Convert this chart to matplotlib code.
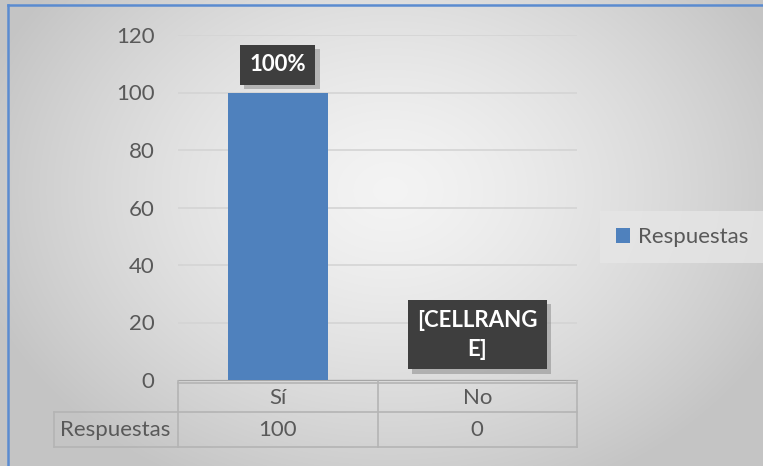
import numpy as np
import matplotlib.pyplot as plt
from matplotlib import patheffects

plt.rcParams['font.family'] = ['Lato', 'DejaVu Sans']

categorias = ['Sí', 'No']
respuestas = [100, 0]
etiquetas = ['100%', '[CELLRANG\nE]']
serie = 'Respuestas'
yticks = [0, 20, 40, 60, 80, 100, 120]

W, H = 763, 466
fig = plt.figure(figsize=(W / 100, H / 100), dpi=100)

# fondo con degradado radial
bg = fig.add_axes([0, 0, 1, 1], zorder=-5)
yy, xx = np.mgrid[0:H, 0:W]
r = np.sqrt(((xx - 390) / 430.0) ** 2 + ((yy - 190) / 330.0) ** 2)
r = np.clip(r, 0, 1)
g = 0.955 - 0.185 * r ** 1.4
bg.imshow(np.dstack([g, g, g]), extent=[0, W, H, 0], aspect='auto')
bg.set_xlim(0, W)
bg.set_ylim(H, 0)
bg.axis('off')
# borde azul del marco
bg.plot([8, W], [5, 5], color='#5a8bd0', lw=1.8)
bg.plot([8, 8], [5, H], color='#5a8bd0', lw=1.8)

fs = 16
gris = '#595959'
x0, x1, y0, y1 = 178, 577, 380, 35
ax = fig.add_axes([x0 / W, 1 - y0 / H, (x1 - x0) / W, (y0 - y1) / H])
ax.patch.set_alpha(0)
x = np.arange(len(categorias))
bars = ax.bar(x, respuestas, width=0.5, color='#4f81bd', zorder=3)
ax.set_xlim(-0.5, len(categorias) - 0.5)
ax.set_ylim(0, 120)
ax.set_yticks(yticks)
ax.yaxis.grid(True, color='#d4d4d4', lw=1.2)
ax.set_axisbelow(True)
for s in ['top', 'right', 'left']:
    ax.spines[s].set_visible(False)
ax.spines['bottom'].set_color('#a6a6a6')
ax.tick_params(axis='y', length=0, labelsize=fs, labelcolor=gris, pad=17)
ax.tick_params(axis='x', length=0, labelbottom=False)

# etiquetas de datos en recuadro oscuro
for xi, v, lab in zip(x, respuestas, etiquetas):
    yl = v + 9.6 if v > 0 else v + 15.7
    t = ax.text(xi, yl, lab, ha='center', va='center', color='white',
                fontsize=fs, fontweight='bold', linespacing=1.5, zorder=5,
                bbox=dict(boxstyle='square,pad=0.42', fc='#3e3e3e', lw=0))
    t.get_bbox_patch().set_path_effects([
        patheffects.SimplePatchShadow(offset=(3, -3), shadow_rgbFace='#7a7a7a', alpha=0.45),
        patheffects.Normal()])

# tabla de datos bajo el eje
ov = fig.add_axes([0, 0, 1, 1], zorder=4)
ov.set_xlim(0, W)
ov.set_ylim(H, 0)
ov.axis('off')
c = '#b4b4b4'
ov.plot([x0, x1], [383, 383], color=c, lw=1.2)
ov.plot([54, x1], [412, 412], color=c, lw=1.2)
ov.plot([54, x1], [447, 447], color=c, lw=1.2)
ov.plot([54, 54], [412, 447], color=c, lw=1.2)
colx = [x0 + (x1 - x0) * i / len(categorias) for i in range(len(categorias) + 1)]
for cx in colx:
    ov.plot([cx, cx], [381, 447], color=c, lw=1.2)
for i, (cat, v) in enumerate(zip(categorias, respuestas)):
    cx = (colx[i] + colx[i + 1]) / 2
    ov.text(cx, 398, cat, ha='center', va='center', fontsize=fs, color=gris)
    ov.text(cx, 430, str(v), ha='center', va='center', fontsize=fs, color=gris)
ov.text(115, 430, serie, ha='center', va='center', fontsize=fs, color=gris)

leg = ax.legend([bars], [serie], loc='center left', bbox_to_anchor=(607 / W, 1 - 237 / H),
                bbox_transform=fig.transFigure, frameon=True, fontsize=fs,
                handlelength=0.65, handleheight=0.65, handletextpad=0.35,
                borderpad=0.4, borderaxespad=0)
leg.get_frame().set_facecolor('#e6e6e6')
leg.get_frame().set_edgecolor('none')
leg.get_frame().set_boxstyle('square')
for tx in leg.get_texts():
    tx.set_color(gris)

fig.savefig('out.png', dpi=100)
